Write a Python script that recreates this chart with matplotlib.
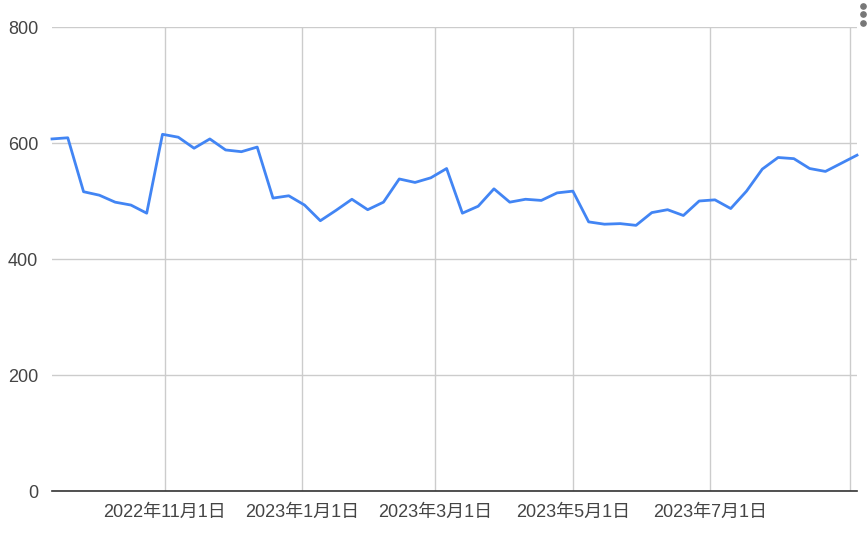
import numpy as np
import pandas as pd
import matplotlib
matplotlib.use("Agg")
import matplotlib.pyplot as plt
import matplotlib.dates as mdates
from matplotlib.lines import Line2D

plt.rcParams['font.family'] = ['Liberation Sans', 'Noto Sans CJK JP', 'DejaVu Sans']

# 週次データ (2022-09-12 から)
start_date = "2022-09-12"
values = [607, 609, 516, 510, 498, 493, 479, 615, 610, 591,
          607, 588, 585, 593, 505, 509, 493, 466, 484, 503,
          485, 498, 538, 532, 540, 556, 479, 491, 521, 498,
          503, 501, 514, 517, 464, 460, 461, 458, 480, 485,
          475, 500, 502, 487, 517, 555, 575, 573, 556, 551,
          565, 579]
dates = pd.date_range(start_date, periods=len(values), freq="7D")

tick_dates = pd.to_datetime(["2022-11-01", "2023-01-01", "2023-03-01",
                             "2023-05-01", "2023-07-01", "2023-09-01"])
tick_labels = ["2022年11月1日", "2023年1月1日", "2023年3月1日",
               "2023年5月1日", "2023年7月1日", ""]
y_ticks = [0, 200, 400, 600, 800]

fig = plt.figure(figsize=(8.68, 5.33), dpi=100)
ax = fig.add_axes([52 / 868, 42 / 533, 805 / 868, 464 / 533])

ax.plot(dates, values, color="#4285F4", linewidth=2.0, solid_joinstyle="round",
        zorder=3, clip_on=False)

ax.set_xlim(dates[0], dates[-1])
ax.set_ylim(0, 800)
ax.set_yticks(y_ticks)
ax.set_xticks(tick_dates)
ax.set_xticklabels(tick_labels)

ax.grid(True, color="#cccccc", linewidth=1.0)
ax.set_axisbelow(True)
for side in ["top", "right", "left"]:
    ax.spines[side].set_visible(False)
ax.spines["bottom"].set_color("#333333")
ax.spines["bottom"].set_linewidth(1.2)
ax.spines["bottom"].set_zorder(4)

ax.tick_params(axis="both", length=0, labelsize=13, labelcolor="#444444")
ax.tick_params(axis="x", pad=9)
ax.tick_params(axis="y", pad=10)

# 右上のメニューアイコン
fig.add_artist(Line2D([862.5 / 868] * 3, [1 - 5.5 / 533, 1 - 14 / 533, 1 - 22.5 / 533],
                      transform=fig.transFigure, linestyle="none", marker="o",
                      markersize=3.8, color="#777777"))

fig.savefig("out.png", dpi=100)
